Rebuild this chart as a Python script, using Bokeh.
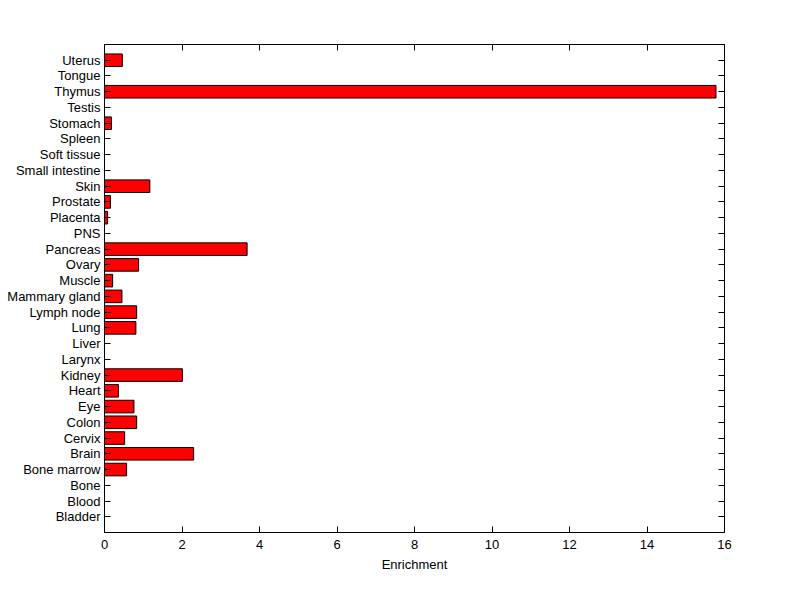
from bokeh.plotting import figure
from bokeh.models import LinearAxis, FixedTicker, ColumnDataSource, Range1d
from bokeh.embed import file_html
from bokeh.resources import INLINE

tissues = ["Bladder", "Blood", "Bone", "Bone marrow", "Brain", "Cervix", "Colon", "Eye",
           "Heart", "Kidney", "Larynx", "Liver", "Lung", "Lymph node", "Mammary gland",
           "Muscle", "Ovary", "Pancreas", "PNS", "Placenta", "Prostate", "Skin",
           "Small intestine", "Soft tissue", "Spleen", "Stomach", "Testis", "Thymus",
           "Tongue", "Uterus"]
enrichment = [0, 0, 0, 0.57, 2.30, 0.52, 0.83, 0.76,
              0.36, 2.01, 0, 0, 0.81, 0.83, 0.45,
              0.21, 0.88, 3.68, 0, 0.08, 0.155, 1.17,
              0, 0, 0, 0.18, 0, 15.78,
              0, 0.46]
x_ticks = [0, 2, 4, 6, 8, 10, 12, 14, 16]

pos = list(range(1, len(tissues) + 1))
src = ColumnDataSource(dict(y=pos, v=enrichment, name=tissues))

FONT = "Liberation Sans"

p = figure(frame_width=620, frame_height=488, output_backend="svg", toolbar_location=None,
           x_range=Range1d(0, 16), y_range=Range1d(0, len(tissues) + 1),
           min_border_left=104, min_border_top=44, min_border_right=60, min_border_bottom=51,
           x_axis_location=None, y_axis_location=None)
p.background_fill_color = "white"
p.border_fill_color = "white"
p.outline_line_color = "black"
p.outline_line_width = 1
p.xgrid.visible = False
p.ygrid.visible = False

p.hbar(y="y", left=0, right="v", height=0.8, source=src,
       fill_color="#ff0000", line_color="black", line_width=1)

yt = FixedTicker(ticks=pos)
overrides = {i: t for i, t in zip(pos, tissues)}

def style(ax, labels=True):
    ax.axis_line_color = "black"
    ax.major_tick_in = 6
    ax.major_tick_out = 0
    ax.minor_tick_line_color = None
    ax.major_tick_line_color = "black"
    ax.major_label_text_font = FONT
    ax.major_label_text_font_size = "13px"
    ax.major_label_text_color = "black"
    ax.axis_label_text_font = FONT
    ax.axis_label_text_font_size = "13px"
    ax.axis_label_text_font_style = "normal"
    ax.axis_label_text_color = "black"
    if not labels:
        ax.major_label_text_font_size = "0px"
        ax.major_label_text_color = None

left = LinearAxis(ticker=yt, major_label_overrides=overrides)
style(left)
left.major_label_standoff = 4
p.add_layout(left, "left")

right = LinearAxis(ticker=yt)
style(right, labels=False)
p.add_layout(right, "right")

bottom = LinearAxis(ticker=FixedTicker(ticks=x_ticks), axis_label="Enrichment")
style(bottom)
bottom.major_label_standoff = 7
bottom.axis_label_standoff = 5
p.add_layout(bottom, "below")

top = LinearAxis(ticker=FixedTicker(ticks=x_ticks))
style(top, labels=False)
p.add_layout(top, "above")

open("out.html", "w").write(file_html(p, INLINE))
